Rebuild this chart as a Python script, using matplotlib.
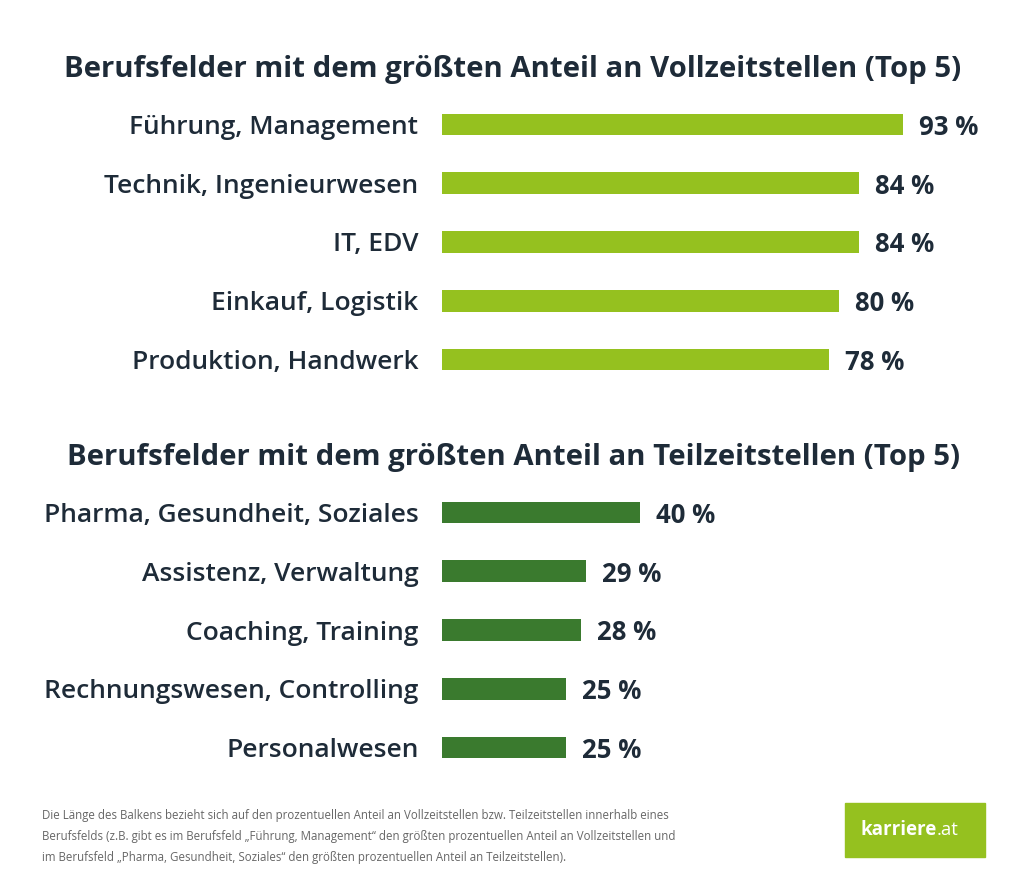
import matplotlib
matplotlib.use("Agg")
import matplotlib.pyplot as plt
from matplotlib.patches import Rectangle

plt.rcParams['font.family'] = ['Open Sans', 'DejaVu Sans']

# data
full_title = "Berufsfelder mit dem größten Anteil an Vollzeitstellen (Top 5)"
full_cats = ["Führung, Management", "Technik, Ingenieurwesen", "IT, EDV",
             "Einkauf, Logistik", "Produktion, Handwerk"]
full_vals = [93, 84, 84, 80, 78]

part_title = "Berufsfelder mit dem größten Anteil an Teilzeitstellen (Top 5)"
part_cats = ["Pharma, Gesundheit, Soziales", "Assistenz, Verwaltung",
             "Coaching, Training", "Rechnungswesen, Controlling", "Personalwesen"]
part_vals = [40, 29, 28, 25, 25]

footnote = ("Die Länge des Balkens bezieht sich auf den prozentuellen Anteil an Vollzeitstellen bzw. Teilzeitstellen innerhalb eines\n"
            "Berufsfelds (z.B. gibt es im Berufsfeld „Führung, Management“ den größten prozentuellen Anteil an Vollzeitstellen und\n"
            "im Berufsfeld „Pharma, Gesundheit, Soziales“ den größten prozentuellen Anteil an Teilzeitstellen).")

TEXT = '#1e2b38'
LIGHT = '#95c11f'
DARK = '#3a7a2e'

fig = plt.figure(figsize=(10.24, 8.96), dpi=100)


def panel(rect, cats, vals, color):
    ax = fig.add_axes(rect)
    y = list(range(len(cats)))
    ax.barh(y, vals, height=0.37, color=color)
    ax.set_xlim(0, 100)
    ax.set_ylim(len(cats) - 0.5, -0.5)
    ax.set_yticks(y)
    ax.set_yticklabels(cats, fontsize=19, color=TEXT, fontweight='semibold')
    ax.tick_params(axis='y', length=0, pad=17)
    ax.set_xticks([])
    for s in ax.spines.values():
        s.set_visible(False)
    for yi, v in zip(y, vals):
        ax.text(v + 3.2, yi, f"{v} %", va='center_baseline', ha='left', fontsize=18.5,
                fontweight='bold', color=TEXT, clip_on=False)
    return ax


panel([442 / 1024, 1 - 389 / 896, 496 / 1024, 294 / 896], full_cats, full_vals, LIGHT)
panel([442 / 1024, 1 - 777 / 896, 496 / 1024, 294 / 896], part_cats, part_vals, DARK)

fig.text(0.501, 1 - 69 / 896, full_title, ha='center', va='center',
         fontsize=21.2, fontweight='bold', color=TEXT)
fig.text(0.501, 1 - 457 / 896, part_title, ha='center', va='center',
         fontsize=21.2, fontweight='bold', color=TEXT)

fig.text(42 / 1024, 1 - 836 / 896, footnote, ha='left', va='center',
         fontsize=8.3, color='#666666', linespacing=1.8)

fig.patches.append(Rectangle((845 / 1024, 1 - 857 / 896), 140 / 1024, 54 / 896,
                             transform=fig.transFigure, color=LIGHT, zorder=1))
fig.text(937 / 1024, 1 - 830 / 896, "karriere", ha='right', va='center',
         fontsize=13.5, fontweight='bold', color='white', zorder=2)
fig.text(937 / 1024, 1 - 830 / 896, ".at", ha='left', va='center',
         fontsize=13.5, color='white', zorder=2)

fig.savefig('out.png', dpi=100, facecolor='white')
